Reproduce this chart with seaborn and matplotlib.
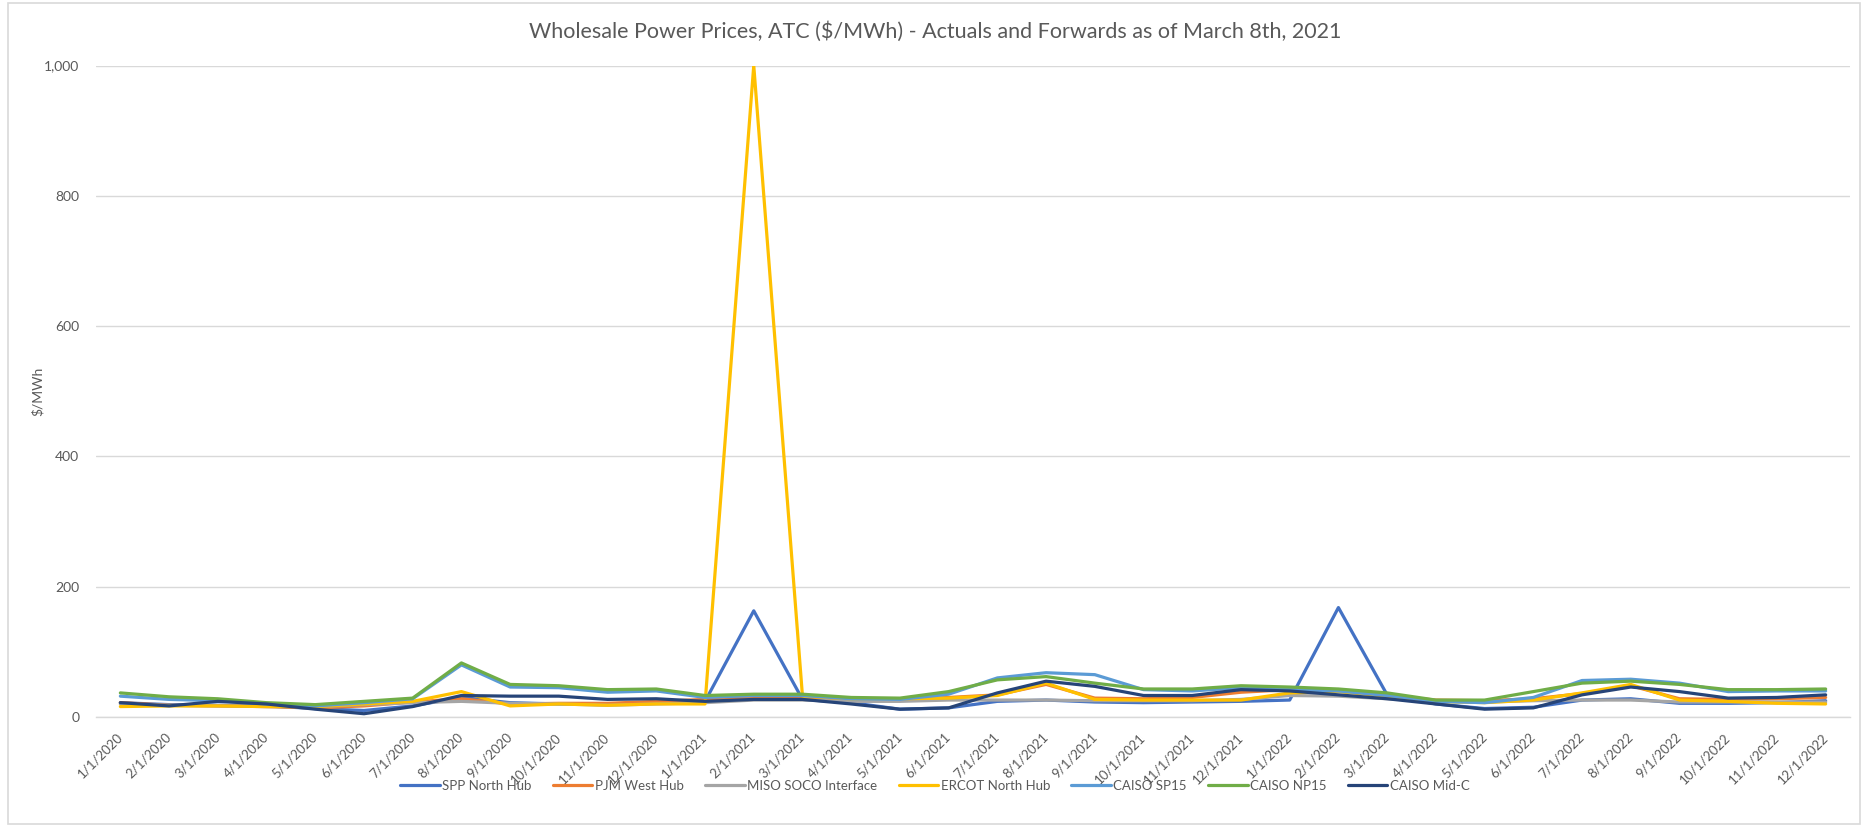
import matplotlib
matplotlib.use("Agg")
import matplotlib.pyplot as plt
import seaborn as sns
import pandas as pd
from matplotlib.ticker import FuncFormatter, FixedLocator
from matplotlib.patches import Rectangle
from matplotlib.lines import Line2D

dates = ["1/1/2020", "2/1/2020", "3/1/2020", "4/1/2020", "5/1/2020", "6/1/2020",
         "7/1/2020", "8/1/2020", "9/1/2020", "10/1/2020", "11/1/2020", "12/1/2020",
         "1/1/2021", "2/1/2021", "3/1/2021", "4/1/2021", "5/1/2021", "6/1/2021",
         "7/1/2021", "8/1/2021", "9/1/2021", "10/1/2021", "11/1/2021", "12/1/2021",
         "1/1/2022", "2/1/2022", "3/1/2022", "4/1/2022", "5/1/2022", "6/1/2022",
         "7/1/2022", "8/1/2022", "9/1/2022", "10/1/2022", "11/1/2022", "12/1/2022"]

spp = [22, 19, 18, 17, 13, 10, 17, 30, 22, 20, 19, 22,
       24, 163, 27, 22, 12, 14, 24, 26, 23, 22, 23, 24,
       26, 168, 34, 20, 13, 15, 26, 28, 21, 21, 22, 25]
pjm = [22, 18, 17, 16, 14, 17, 23, 28, 20, 21, 21, 24,
       27, 30, 28, 26, 26, 30, 34, 50, 29, 28, 30, 38,
       42, 40, 33, 26, 25, 28, 36, 48, 28, 27, 28, 30]
miso = [20, 18, 17, 16, 16, 19, 22, 24, 21, 20, 18, 20,
        22, 26, 26, 24, 24, 26, 26, 26, 25, 25, 25, 27,
        33, 32, 28, 24, 23, 25, 26, 26, 23, 23, 23, 23]
ercot = [16, 17, 17, 16, 16, 20, 24, 39, 17, 20, 18, 20,
         20, 1000, 32, 28, 28, 29, 33, 52, 27, 26, 26, 26,
         37, 39, 32, 24, 22, 26, 37, 50, 26, 24, 21, 20]
sp15 = [32, 27, 25, 20, 17, 22, 28, 80, 46, 45, 38, 40,
        30, 33, 33, 28, 27, 35, 60, 68, 65, 42, 40, 45,
        42, 40, 33, 24, 22, 30, 56, 58, 52, 39, 40, 40]
np15 = [37, 31, 28, 22, 19, 24, 29, 83, 50, 48, 42, 43,
        33, 35, 35, 30, 29, 39, 57, 62, 52, 43, 43, 48,
        46, 43, 37, 26, 26, 39, 52, 55, 50, 42, 42, 43]
midc = [22, 17, 24, 20, 12, 5, 16, 33, 32, 32, 27, 28,
        24, 27, 27, 20, 12, 14, 37, 55, 47, 33, 33, 42,
        40, 34, 28, 20, 12, 14, 34, 46, 39, 29, 30, 34]

series_names = ["SPP North Hub", "PJM West Hub", "MISO SOCO Interface",
                "ERCOT North Hub", "CAISO SP15", "CAISO NP15", "CAISO Mid-C"]
series_values = [spp, pjm, miso, ercot, sp15, np15, midc]
colors = ["#4472C4", "#ED7D31", "#A5A5A5", "#FFC000", "#5B9BD5", "#70AD47", "#264478"]

rows = []
for name, vals in zip(series_names, series_values):
    for i, v in enumerate(vals):
        rows.append({"idx": i, "date": dates[i], "series": name, "value": v})
df = pd.DataFrame(rows)

sns.set_theme(style="white")
plt.rcParams["font.family"] = ["Lato", "DejaVu Sans"]

W, H = 1867, 836
fig = plt.figure(figsize=(W / 100, H / 100), dpi=100)
ax = fig.add_axes([96 / W, 1 - 717 / H, (1850 - 96) / W, (717 - 65.5) / H])

text_col = "#595959"
grid_col = "#D9D9D9"

sns.lineplot(data=df, x="idx", y="value", hue="series", hue_order=series_names,
             palette=colors, linewidth=2.3, ax=ax, legend=False, sort=False)

ax.set_xlim(-0.5, len(dates) - 0.5)
ax.set_ylim(0, 1000)
ax.yaxis.set_major_locator(FixedLocator([0, 200, 400, 600, 800, 1000]))
ax.yaxis.set_major_formatter(FuncFormatter(lambda v, p: f"{int(v):,}"))
ax.set_xticks(range(len(dates)))
ax.set_xticklabels(dates, rotation=45, ha="right", va="center",
                   rotation_mode="anchor", fontsize=9.5, color=text_col)
ax.tick_params(axis="x", length=0, pad=13)
ax.tick_params(axis="y", length=0, pad=12, labelsize=10, labelcolor=text_col)
ax.grid(axis="y", color=grid_col, linewidth=1)
ax.grid(axis="x", visible=False)
for s in ["top", "right", "left"]:
    ax.spines[s].set_visible(False)
ax.spines["bottom"].set_color(grid_col)
ax.spines["bottom"].set_linewidth(1)
ax.set_axisbelow(True)

ax.set_xlabel("")
ax.set_ylabel("$/MWh", fontsize=10, color=text_col, labelpad=0)

fig.text(935 / W, 1 - 32 / H, "Wholesale Power Prices, ATC ($/MWh) - Actuals and Forwards as of March 8th, 2021",
         ha="center", va="center", fontsize=15.5, color=text_col)

handles = [Line2D([0], [0], color=c, linewidth=2.3) for c in colors]
fig.legend(handles, series_names, loc="center", bbox_to_anchor=(935 / W, 1 - 786 / H),
           ncol=7, frameon=False, fontsize=9.5, handlelength=3.0, handletextpad=0.2,
           columnspacing=1.6, labelcolor=text_col)

fig.patches.append(Rectangle((8 / W, 1 - 824 / H), (1860 - 8) / W, (824 - 3) / H,
                             transform=fig.transFigure, fill=False,
                             edgecolor=grid_col, linewidth=1.2))

fig.savefig("out.png", dpi=100, facecolor="white")
